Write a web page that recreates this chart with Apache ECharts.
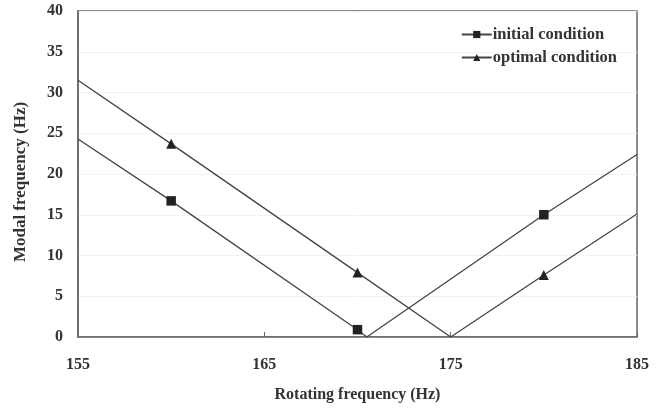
<!DOCTYPE html>
<html><head><meta charset="utf-8">
<script src="https://cdn.jsdelivr.net/npm/echarts@6/dist/echarts.min.js"></script>
<style>html,body{margin:0;padding:0;background:#fff}#c{width:662px;height:408px}</style>
</head><body><div id="c"></div>
<script>
const seriesNames = ['initial condition', 'optimal condition'];
// x positions (Hz) and values; unmarked points are line-only points (ends / vertex)
const initialX = [155, 160, 170, 170.5, 180, 185];
const initialY = [24.3, 16.7, 0.9, 0, 15.0, 22.4];
const initialMarked = [false, true, true, false, true, false];
const optimalX = [155, 160, 170, 175, 180, 185];
const optimalY = [31.5, 23.7, 7.9, 0, 7.6, 15.1];
const optimalMarked = [false, true, true, false, true, false];
const xTicks = [155, 165, 175, 185];
const yTicks = [0, 5, 10, 15, 20, 25, 30, 35, 40];

function build(xs, ys, marks) {
  return xs.map((x, i) => marks[i] ? [x, ys[i]] : {value: [x, ys[i]], symbol: 'none'});
}
const font = '"Liberation Serif", "Times New Roman", serif';
const chart = echarts.init(document.getElementById('c'), null, {renderer: 'canvas'});
chart.setOption({
  animation: false,
  grid: {left: 78, right: 25, top: 11, bottom: 69, show: true, borderColor: '#666', borderWidth: 1.5},
  legend: {
    orient: 'vertical', right: 40, top: 21, itemGap: 6, itemWidth: 30, itemHeight: 9,
    textStyle: {fontFamily: font, fontWeight: 'bold', fontSize: 16.5, color: '#333', padding: [0, 0, 0, -4]},
    data: seriesNames
  },
  xAxis: {
    type: 'value', min: xTicks[0], max: xTicks[xTicks.length - 1], interval: 10,
    name: 'Rotating frequency (Hz)', nameLocation: 'middle', nameGap: 50,
    nameTextStyle: {fontFamily: font, fontWeight: 'bold', fontSize: 16, color: '#333'},
    axisLine: {lineStyle: {color: '#666', width: 1.5}},
    axisTick: {inside: true, length: 5, lineStyle: {color: '#666'}},
    axisLabel: {margin: 20, fontFamily: font, fontWeight: 'bold', fontSize: 16, color: '#333'},
    splitLine: {show: false}
  },
  yAxis: {
    type: 'value', min: yTicks[0], max: yTicks[yTicks.length - 1], interval: 5,
    name: 'Modal frequency (Hz)', nameLocation: 'middle', nameGap: 49,
    nameTextStyle: {fontFamily: font, fontWeight: 'bold', fontSize: 17, color: '#333', padding: [0, 16, 0, 0]},
    axisLine: {lineStyle: {color: '#666', width: 1.5}},
    axisTick: {show: false},
    axisLabel: {margin: 15, fontFamily: font, fontWeight: 'bold', fontSize: 16, color: '#333'},
    splitLine: {show: true, lineStyle: {color: '#f2f2f2', width: 1}}
  },
  series: [
    {name: seriesNames[0], type: 'line', data: build(initialX, initialY, initialMarked),
     symbol: 'rect', symbolSize: 9.5, showAllSymbol: true,
     lineStyle: {color: '#444', width: 1.3}, itemStyle: {color: '#222'}},
    {name: seriesNames[1], type: 'line', data: build(optimalX, optimalY, optimalMarked),
     symbol: 'triangle', symbolSize: 10, showAllSymbol: true,
     lineStyle: {color: '#444', width: 1.3}, itemStyle: {color: '#222'}}
  ]
});
</script></body></html>
